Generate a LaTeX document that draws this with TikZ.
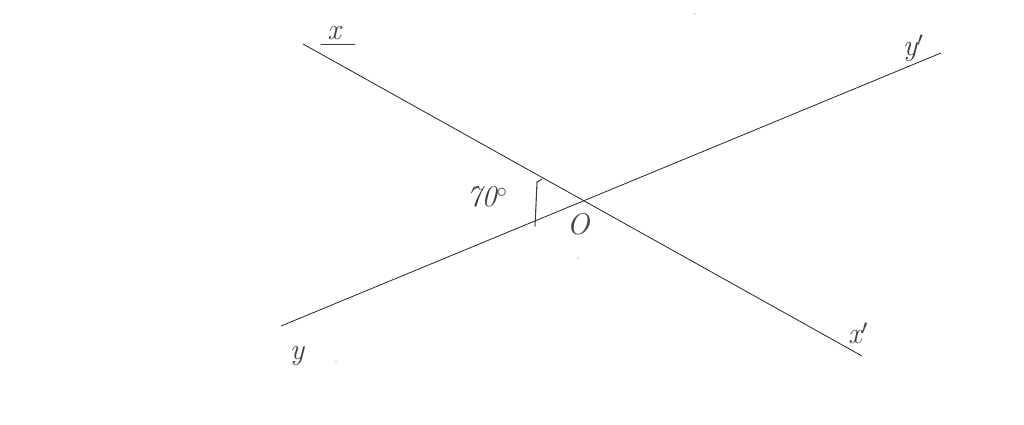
\documentclass[tikz,border=0pt]{standalone}
\begin{document}
\begin{tikzpicture}[x=1pt,y=-1pt,
  lbl/.style={inner sep=0pt,text=black!75,font=\fontsize{30}{32}\selectfont\itshape},
  ln/.style={draw=black!85,line width=0.8pt},
  hand/.style={draw=black!75,line width=1.1pt,line cap=round}]
\useasboundingbox[fill=white] (0,0) rectangle (1024,425);
\coordinate (X) at (303,44);
\coordinate (Xp) at (862,356);
\coordinate (Y) at (281,326);
\coordinate (Yp) at (941,53);
\draw[ln] (X) -- (Xp);
\draw[ln] (Y) -- (Yp);
\node[lbl] (lx) at (334,33) {x};
\coordinate (ul1) at (321,44);
\coordinate (ul2) at (355,44);
\draw[hand,line width=0.9pt] (ul1) -- (ul2);
\node[lbl] (lyp) at (913,48) {y$'$};
\node[lbl] (l70) at (487,197) {70$^\circ$};
\coordinate (m1) at (535,226);
\coordinate (m2) at (537,182);
\coordinate (m3) at (542,179);
\draw[hand] (m1) .. controls (536,205) .. (m2) -- (m3);
\node[lbl] (lO) at (578,224) {O};
\node[lbl] (ly) at (297,356) {y};
\node[lbl] (lxp) at (858,333) {x$'$};
\fill[black!50] (695,14) circle (0.6);
\fill[black!50] (578,258) circle (0.7);
\fill[black!50] (336,362) circle (0.7);
\end{tikzpicture}
\end{document}
